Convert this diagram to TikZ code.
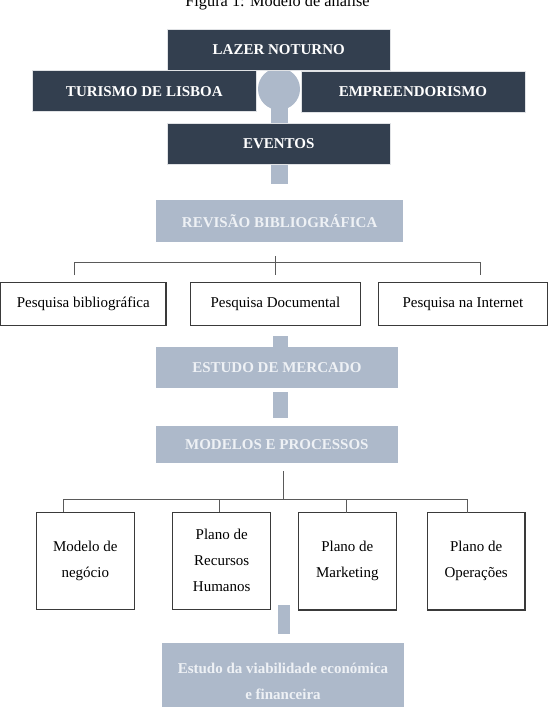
\documentclass[tikz,border=0pt]{standalone}
\usepackage{fontspec}
\setmainfont{Liberation Serif}
\definecolor{navy}{HTML}{333F4F}
\definecolor{pale}{HTML}{ADB9CA}
\definecolor{paletext}{HTML}{EEF1F5}
\definecolor{edge}{HTML}{3A3A3A}
\definecolor{treeline}{HTML}{5A5A5A}
\begin{document}
\begin{tikzpicture}[x=1pt,y=-1pt,
  darkbox/.style={fill=navy, draw=white!85!navy, line width=0.6pt, text=white, inner sep=0pt, outer sep=0pt,
    font=\fontsize{15}{26}\selectfont\bfseries},
  palebox/.style={fill=pale, text=paletext, inner sep=0pt, outer sep=0pt, align=center,
    font=\fontsize{15}{26}\selectfont\bfseries},
  plainbox/.style={draw=edge, line width=1.1pt, fill=white, inner sep=0pt, outer sep=0pt, align=center,
    font=\fontsize{15}{26}\selectfont},
  tree/.style={draw=treeline, line width=0.9pt},
  stem/.style={fill=pale}]
\useasboundingbox (0,0) rectangle (548,721);
\fill[white] (0,0) rectangle (548,721);

% title
\node[anchor=base, inner sep=0pt, font=\fontsize{16.3}{18}\selectfont] (title) at (277.5,6.7) {Figura 1: Modelo de análise};

% circle and stems of the top group
\fill[stem] (279,89) circle (21);
\fill[stem] (271,89) rectangle (288,124);
\fill[stem] (271,164) rectangle (288,184);

% top group
\node[darkbox, minimum width=223.5, minimum height=41.2] (lazer) at (278.75,50.1) {LAZER NOTURNO};
\node[darkbox, minimum width=223.3, minimum height=41] (tur) at (144.35,91.2) {TURISMO DE LISBOA};
\node[darkbox, minimum width=224, minimum height=41] (emp) at (413,91.5) {EMPREENDORISMO};
\node[darkbox, minimum width=223.5, minimum height=41] (eve) at (278.75,143.8) {EVENTOS};

% revisao
\node[palebox, minimum width=247.3, minimum height=42.3] (rev) at (279.65,221.15) {REVISÃO BIBLIOGRÁFICA};

% tree 1
\coordinate (a1) at (275,256);
\coordinate (a2) at (275,275);
\coordinate (l1) at (74,262.7);
\coordinate (r1) at (480,262.7);
\draw[tree] (a1) -- (a2);
\draw[tree] (l1 |- 0,275) -- (l1) -- (r1) -- (r1 |- 0,275);

\node[plainbox, minimum width=165.4, minimum height=42.3] (pb) at (83.3,303.9) {Pesquisa bibliográfica};
\node[plainbox, minimum width=169.8, minimum height=42.3] (pd) at (275.4,303.9) {Pesquisa Documental};
\node[plainbox, minimum width=168.4, minimum height=42.3] (pi) at (462.9,303.9) {Pesquisa na Internet};

% estudo de mercado
\fill[stem] (272.7,336) rectangle (288.3,347);
\node[palebox, minimum width=241.7, minimum height=41.6] (est) at (276.85,367.5) {ESTUDO DE MERCADO};
\fill[stem] (272.7,392.3) rectangle (287.7,418.3);
\node[palebox, minimum width=241.7, minimum height=37.6] (mod) at (276.85,444.5) {MODELOS E PROCESSOS};

% tree 2
\coordinate (b1) at (283.3,471);
\coordinate (b2) at (283.3,499.3);
\coordinate (h1) at (63.3,499.3);
\coordinate (h2) at (219,499.3);
\coordinate (h3) at (346.7,499.3);
\coordinate (h4) at (467.7,499.3);
\draw[tree] (b1) -- (b2);
\draw[tree] (h1) -- (h4);

\node[plainbox, minimum width=98, minimum height=97] (m1) at (85.3,560.8) {Modelo de\\negócio};
\node[plainbox, minimum width=98, minimum height=97] (m2) at (221.7,560.8) {Plano de\\Recursos\\Humanos};
\node[plainbox, minimum width=98, minimum height=97.3] (m3) at (347.3,561.35) {Plano de\\Marketing};
\node[plainbox, minimum width=97.7, minimum height=97.3] (m4) at (476.15,561.35) {Plano de\\Operações};

\draw[tree] (h1) -- (h1 |- m1.north);
\draw[tree] (h2) -- (h2 |- m2.north);
\draw[tree] (h3) -- (h3 |- m3.north);
\draw[tree] (h4) -- (h4 |- m4.north);

% final
\fill[stem] (278,605) rectangle (290.3,634);
\node[palebox, minimum width=242, minimum height=64, text depth=0pt] (fin) at (283,674.7) {};
\node[palebox, fill=none] (fintext) at (283,681.5) {Estudo da viabilidade económica\\e financeira};
\end{tikzpicture}
\end{document}
